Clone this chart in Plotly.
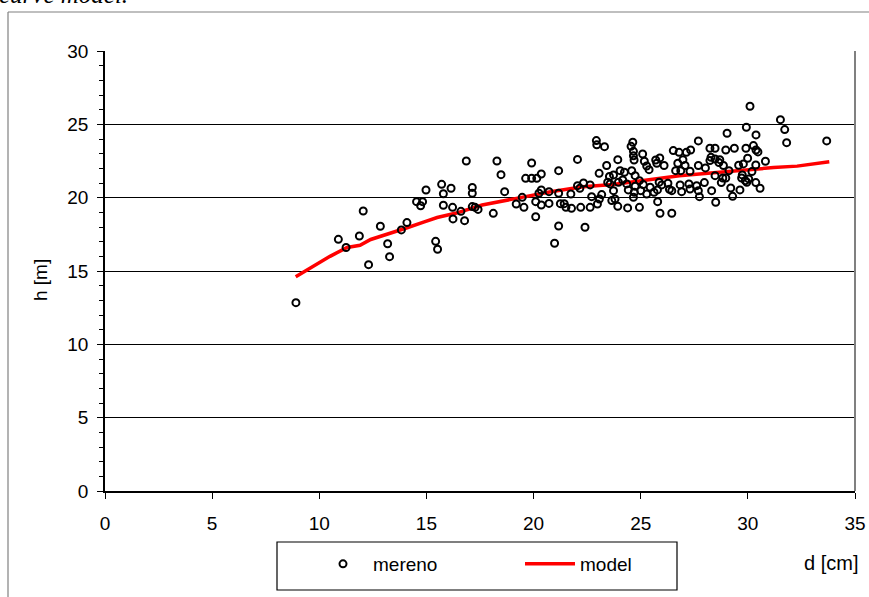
import plotly.graph_objects as go

# measured points: diameter d [cm], height h [m]
d_meas = [8.91, 10.89, 11.25, 11.87, 12.05, 12.3, 12.85, 13.19, 13.28, 13.83, 14.09, 14.54, 14.82, 14.73,
          14.98, 15.71, 15.79, 16.15, 15.79, 16.22, 16.24, 15.43, 15.52, 16.61, 16.78, 16.86, 17.14, 17.14,
          17.14, 17.27, 17.41, 18.12, 18.29, 18.48, 18.65, 19.19, 19.47, 19.55, 19.91, 19.63, 19.91, 20.15,
          20.36, 20.1, 20.36, 20.36, 20.25, 20.1, 20.72, 20.72, 20.98, 21.17, 21.17, 21.17, 21.25, 21.43,
          21.51, 21.74, 21.77, 22.05, 22.05, 22.16,
          30.10, 31.52, 29.93, 31.72, 29.03, 30.38, 33.68, 31.81, 22.93, 22.95, 23.31, 24.63, 24.55, 24.66,
          27.69, 26.52, 26.79, 27.13, 27.33, 28.23, 28.47, 28.97, 29.37, 25.09, 24.66, 24.69, 25.17, 23.93,
          23.41, 25.28, 25.39, 25.7, 25.89, 26.09, 25.75, 26.97, 26.73, 27.07, 26.63, 27.69, 28.02, 28.28,
          28.23, 28.47, 28.69, 28.65, 29.91, 30.26, 30.38, 30.47, 29.99, 29.79, 29.57, 30.37, 30.82, 30.19,
          29.74, 29.71, 29.88, 30.37, 30.57, 29.12, 28.83, 28.97, 28.76, 29.2, 29.29, 29.63, 28.47, 27.97,
          28.31, 28.5, 27.69, 27.74, 27.3, 26.87, 27.25, 26.84, 27.3, 26.91, 26.27, 26.34, 26.45, 25.98,
          25.86, 25.78, 25.79, 25.9, 26.45, 25.62, 25.44, 25.12, 25.28, 25.0, 24.74, 24.7, 24.66, 24.94,
          24.39, 24.42, 24.35, 24.16, 24.24, 24.04, 23.96, 23.73, 23.54, 23.73, 23.57, 23.46, 23.06, 23.8,
          23.93, 23.65, 23.18, 23.07, 22.98, 22.71, 22.64, 22.64, 22.33, 22.2, 22.4, 24.94, 24.74, 24.58,
          28.86, 27.61, 30.04, 29.95]
h_meas = [12.84, 17.16, 16.6, 17.39, 19.09, 15.43, 18.05, 16.86, 15.98, 17.8, 18.3, 19.73, 19.73, 19.45,
          20.52, 20.91, 20.27, 20.64, 19.48, 19.34, 18.55, 17.02, 16.48, 19.07, 18.43, 22.5, 20.7, 20.3,
          19.39, 19.34, 19.2, 18.93, 22.5, 21.57, 20.41, 19.57, 20.02, 19.34, 22.36, 21.32, 21.32, 21.32,
          21.61, 19.73, 20.52, 19.5, 20.3, 18.7, 20.41, 19.61, 16.89, 21.84, 20.3, 18.07, 19.59, 19.59,
          19.34, 20.25, 19.27, 22.61, 20.82, 20.64,
          26.23, 25.32, 24.80, 24.64, 24.39, 24.28, 23.87, 23.75, 23.89, 23.6, 23.48, 23.78, 23.5, 23.16,
          23.87, 23.21, 23.09, 23.09, 23.25, 23.37, 23.37, 23.25, 23.37, 22.98, 22.85, 22.57, 22.48, 22.59,
          22.19, 22.16, 21.91, 22.57, 22.71, 22.19, 22.35, 22.59, 22.35, 22.19, 21.84, 22.19, 22.03, 22.75,
          22.53, 22.64, 22.59, 22.39, 23.37, 23.55, 23.25, 23.12, 22.69, 22.3, 22.21, 22.23, 22.48, 21.78,
          21.55, 21.34, 21.16, 21.03, 20.64, 21.84, 21.34, 21.34, 21.03, 20.66, 20.09, 20.53, 21.5, 21.03,
          20.48, 19.69, 20.48, 20.07, 21.8, 21.84, 20.94, 20.87, 20.59, 20.41, 20.98, 20.57, 20.48, 20.87,
          21.05, 20.53, 19.73, 18.94, 18.94, 20.37, 20.71, 20.89, 20.25, 20.48, 20.78, 20.37, 20.03, 19.34,
          19.3, 20.53, 20.94, 21.21, 21.73, 21.84, 21.05, 21.55, 21.44, 20.48, 20.94, 21.05, 21.66, 19.91,
          19.41, 19.8, 20.21, 19.91, 19.57, 20.07, 19.34, 20.87, 21.0, 19.34, 17.98, 21.16, 21.5, 21.84,
          22.19, 20.82, 21.28, 21.05]

# height-curve model
d_model = [8.9, 9.7, 10.5, 11.3, 11.9, 12.4, 13.3, 14.1, 14.9, 15.5, 16.4, 17.6, 19.2, 20.8, 22.3,
           23.7, 25.3, 26.8, 28.4, 29.9, 31.2, 32.3, 33.8]
h_model = [14.6, 15.3, 16.0, 16.6, 16.75, 17.15, 17.55, 17.95, 18.35, 18.65, 18.95, 19.5, 19.95, 20.4,
           20.75, 20.9, 21.2, 21.5, 21.7, 21.9, 22.05, 22.15, 22.45]

x_ticks = [0, 5, 10, 15, 20, 25, 30, 35]
y_ticks = [0, 5, 10, 15, 20, 25, 30]

FONT = "Liberation Sans"

fig = go.Figure()
fig.add_trace(go.Scatter(x=d_model, y=h_model, mode="lines", name="model",
                         line=dict(color="#ff0000", width=3.5), legendrank=2))
fig.add_trace(go.Scatter(x=d_meas, y=h_meas, mode="markers", name="mereno",
                         marker=dict(symbol="circle-open", size=7, color="black",
                                     line=dict(width=2, color="black")),
                         legendrank=1))

L, R, T, B = 105, 14, 51, 106
W, H = 869, 597
pw, ph = W - L - R, H - T - B

def px(xp):
    return (xp - L) / pw

def py(yp):
    return (H - B - yp) / ph

fig.update_layout(
    width=W, height=H,
    margin=dict(l=L, r=R, t=T, b=B, autoexpand=False),
    paper_bgcolor="white", plot_bgcolor="white",
    font=dict(family=FONT, size=19, color="black"),
    showlegend=True,
    legend=dict(orientation="h", xref="container", yref="container",
                x=313 / W, xanchor="left", y=1 - 545 / H, yanchor="top",
                borderwidth=0, bgcolor="rgba(0,0,0,0)", entrywidth=142, itemwidth=50,
                font=dict(family=FONT, size=19, color="black")),
    xaxis=dict(range=[0, 35], tickvals=x_ticks, ticktext=[str(v) for v in x_ticks],
               showgrid=False, zeroline=False, showline=True, linecolor="black", linewidth=1.5,
               ticks="outside", ticklen=6, tickwidth=1.3, tickcolor="black",
               ticklabelstandoff=8, fixedrange=True, automargin=False),
    yaxis=dict(range=[0, 30], tickvals=y_ticks, ticktext=[str(v) for v in y_ticks],
               showgrid=True, gridcolor="black", gridwidth=1,
               zeroline=False, showline=True, linecolor="black", linewidth=1.5,
               ticks="outside", ticklen=6, tickwidth=1.3, tickcolor="black",
               minor=dict(dtick=1, ticks="outside", ticklen=4, tickwidth=1.3, tickcolor="black",
                          showgrid=False),
               ticklabelstandoff=5, fixedrange=True, automargin=False),
    shapes=[
        # outer chart frame: top edge and left edge
        dict(type="line", xref="paper", yref="paper", x0=px(8), x1=px(869), y0=py(12), y1=py(12),
             line=dict(color="#808080", width=1.2), layer="below"),
        dict(type="line", xref="paper", yref="paper", x0=px(8), x1=px(8), y0=py(12), y1=py(600),
             line=dict(color="#808080", width=1.2), layer="below"),
        # plot area right border
        dict(type="line", xref="paper", yref="paper", x0=1, x1=1, y0=0, y1=1,
             line=dict(color="#808080", width=2)),
        # legend box
        dict(type="rect", xref="paper", yref="paper", x0=px(277), x1=px(677), y0=py(590), y1=py(542),
             line=dict(color="black", width=1.2)),
    ],
    annotations=[
        dict(text="h [m]", xref="paper", yref="paper", x=px(40), y=py(280), textangle=-90,
             xanchor="center", yanchor="middle",
             showarrow=False, font=dict(family=FONT, size=19, color="black")),
        dict(text="d [cm]", xref="paper", yref="paper", x=px(831), y=py(563),
             xanchor="center", yanchor="middle",
             showarrow=False, font=dict(family=FONT, size=20, color="black")),
        dict(text="curve model.", xref="paper", yref="paper", x=px(-3), y=py(10),
             xanchor="left", yanchor="bottom", showarrow=False,
             font=dict(family="Liberation Serif", size=25,
                       color="black", style="italic")),
    ],
)

fig.write_html("out.html")
